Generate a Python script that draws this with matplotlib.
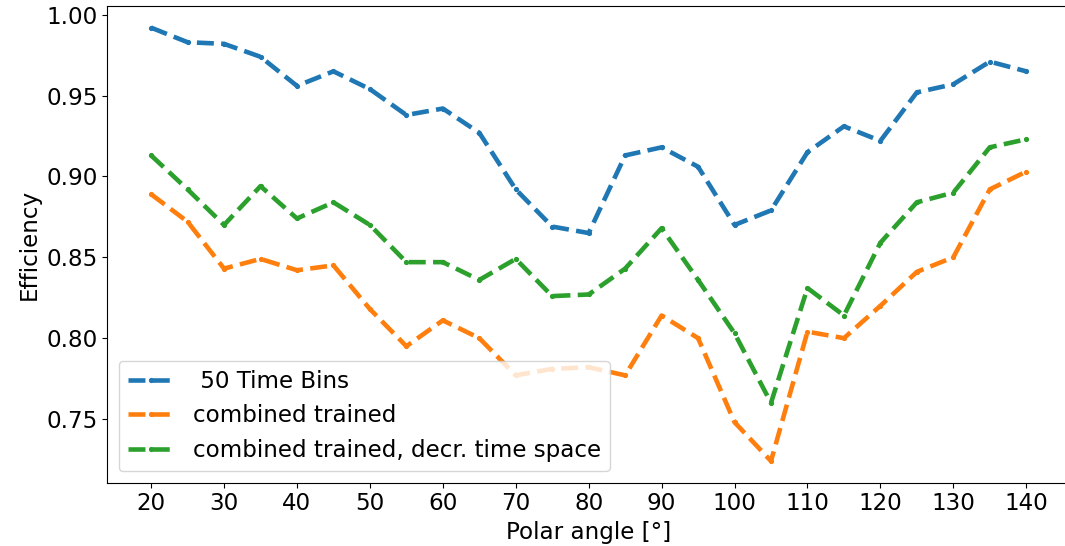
import numpy as np
import matplotlib
matplotlib.use('Agg')
import matplotlib.pyplot as plt

plt.rcParams['font.size'] = 16.6

# polar angle bins
angles = [20, 25, 30, 35, 40, 45, 50, 55, 60, 65, 70, 75, 80,
          85, 90, 95, 100, 105, 110, 115, 120, 125, 130, 135, 140]

eff_50bins = [0.992, 0.983, 0.982, 0.974, 0.956, 0.965, 0.954, 0.938, 0.942,
              0.927, 0.892, 0.869, 0.865, 0.913, 0.918, 0.906, 0.870, 0.879,
              0.915, 0.931, 0.922, 0.952, 0.957, 0.971, 0.965]

eff_combined = [0.889, 0.872, 0.843, 0.849, 0.842, 0.845, 0.818, 0.795, 0.811,
                0.800, 0.777, 0.781, 0.782, 0.777, 0.814, 0.800, 0.748, 0.724,
                0.804, 0.800, 0.820, 0.841, 0.850, 0.892, 0.903]

eff_combined_decr = [0.913, 0.892, 0.870, 0.894, 0.874, 0.884, 0.870, 0.847, 0.847,
                     0.836, 0.849, 0.826, 0.827, 0.843, 0.868, 0.836, 0.803, 0.760,
                     0.831, 0.814, 0.859, 0.884, 0.890, 0.918, 0.923]

labels = [' 50 Time Bins', 'combined trained', 'combined trained, decr. time space']

fig = plt.figure(figsize=(10.65, 5.46), dpi=100)
ax = fig.add_axes([0.1008, 0.1159, 0.9039, 0.8731])

ax.plot(angles, eff_50bins, '--', marker='.', markersize=5.5, linewidth=3.3, label=labels[0])
ax.plot(angles, eff_combined, '--', marker='.', markersize=5.5, linewidth=3.3, label=labels[1])
ax.plot(angles, eff_combined_decr, '--', marker='.', markersize=5.5, linewidth=3.3, label=labels[2])

ax.set_xticks(np.arange(20, 141, 10))
ax.set_xlabel('Polar angle [°]')
ax.set_ylabel('Efficiency')
ax.legend(loc='lower left')

plt.savefig('out.png', dpi=100)
